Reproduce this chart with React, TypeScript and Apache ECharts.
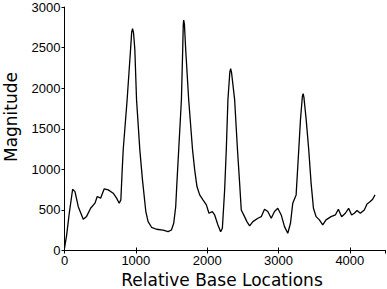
import React, { useEffect, useRef } from "react";
import * as echarts from "echarts";

const basePositions = [
  0, 30, 67, 114, 147, 193, 263, 310, 366, 427, 459, 506, 557, 613, 683, 730, 767, 790,
  809, 823, 878, 926, 942, 954, 968, 986, 1010, 1056, 1093, 1140, 1172, 1220, 1289, 1382, 1452,
  1499, 1531, 1559, 1578, 1601, 1639, 1657, 1665, 1671, 1681, 1699, 1741, 1795, 1825, 1857, 1895,
  1941, 1989, 2025, 2072, 2105, 2151, 2189, 2213, 2245, 2268, 2291, 2318, 2329, 2342, 2385, 2425,
  2455, 2478, 2524, 2557, 2595, 2641, 2711, 2758, 2804, 2850, 2898, 2944, 2990, 3038,
  3084, 3130, 3168, 3200, 3247, 3284, 3308, 3335, 3345, 3356, 3388, 3424, 3457, 3490, 3527, 3573,
  3620, 3666, 3737, 3797, 3839, 3885, 3937, 3983, 4025, 4063, 4101, 4147, 4203, 4241,
  4287, 4320, 4353,
];

const magnitudes = [
  30, 190, 460, 755, 725, 540, 385, 420, 520, 583, 665, 645, 760, 747, 706, 645, 583, 624,
  995, 1241, 1858, 2476, 2690, 2732, 2680, 2476, 1858, 1240, 870, 480, 356, 286, 262, 250, 232,
  253, 336, 541, 870, 1241, 1858, 2476, 2780, 2838, 2790, 2476, 1858, 1241, 994, 788, 685,
  624, 562, 459, 479, 438, 315, 232, 274, 747, 1241, 1858, 2200, 2241, 2190, 1858, 1241,
  830, 500, 417, 356, 303, 356, 397, 417, 509, 480, 397, 480, 520, 438,
  294, 212, 336, 583, 685, 1241, 1612, 1900, 1933, 1890, 1612, 1241, 830, 521, 417, 377,
  315, 377, 417, 438, 509, 417, 459, 520, 438, 459, 492, 459, 500, 574,
  603, 632, 685,
];

const xTicks = [0, 1000, 2000, 3000, 4000];
const xLabel = "Relative Base Locations";
const yLabel = "Magnitude";

export default function App() {
  const ref = useRef<HTMLDivElement>(null);
  useEffect(() => {
    if (!ref.current) return;
    const chart = echarts.init(ref.current, null, { renderer: "svg" });
    const tickFont = { color: "#000", fontSize: 13, fontFamily: "Liberation Sans, Arial, sans-serif" };
    const lineStyle = { color: "#000", width: 1 };
    chart.setOption({
      animation: false,
      backgroundColor: "#fff",
      grid: { left: 64.5, right: 1.5, top: 7, bottom: 38.5, containLabel: false },
      xAxis: [
        {
          type: "value",
          position: "bottom",
          min: 0,
          max: 4500,
          interval: 1000,
          axisLine: { show: true, lineStyle },
          axisTick: { show: true, inside: true, length: 3, lineStyle },
          splitLine: { show: false },
          axisLabel: {
            ...tickFont,
            margin: 3,
            showMaxLabel: false,
            formatter: (v: number) => (xTicks.includes(v) ? String(v) : ""),
          },
        },
        {
          type: "value",
          position: "top",
          min: 0,
          max: 4500,
          interval: 1000,
          axisLine: { show: true, lineStyle },
          axisTick: { show: true, inside: true, length: 3, lineStyle },
          axisLabel: { show: false },
          splitLine: { show: false },
        },
      ],
      yAxis: [
        {
          type: "value",
          position: "left",
          min: 0,
          max: 3000,
          interval: 500,
          axisLine: { show: false },
          axisTick: { show: true, inside: false, length: 2, lineStyle },
          splitLine: { show: false },
          axisLabel: { ...tickFont, margin: 4, formatter: (v: number) => String(v) },
        },
        {
          type: "value",
          position: "right",
          min: 0,
          max: 3000,
          interval: 500,
          axisLine: { show: true, lineStyle },
          axisTick: { show: true, inside: true, length: 3, lineStyle },
          axisLabel: { show: false },
          splitLine: { show: false },
        },
      ],
      graphic: [
        {
          type: "text",
          x: 222,
          y: 280,
          style: {
            text: xLabel,
            fill: "#000",
            fontSize: 17,
            fontFamily: "DejaVu Sans, sans-serif",
            align: "center",
            verticalAlign: "middle",
          },
        },
        {
          type: "text",
          x: 11,
          y: 117,
          rotation: Math.PI / 2,
          style: {
            text: yLabel,
            fill: "#000",
            fontSize: 17,
            fontFamily: "DejaVu Sans, sans-serif",
            align: "center",
            verticalAlign: "middle",
          },
        },
      ],
      series: [
        {
          type: "line",
          xAxisIndex: 0,
          yAxisIndex: 0,
          data: basePositions.map((x, i) => [x, magnitudes[i]]),
          showSymbol: false,
          symbol: "none",
          lineStyle: { color: "#000", width: 1.3 },
        },
      ],
    });
    return () => chart.dispose();
  }, []);
  return <div ref={ref} style={{ width: 387, height: 289, position: "absolute", left: 0, top: 0 }} />;
}
